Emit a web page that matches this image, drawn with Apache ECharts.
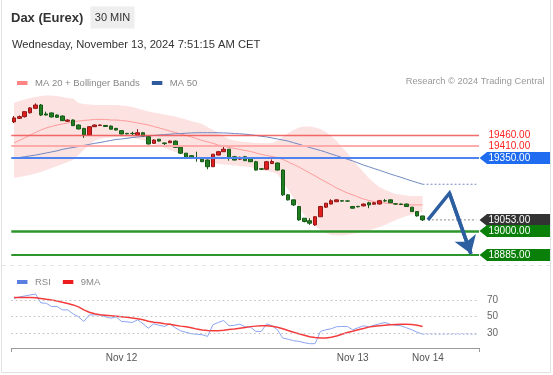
<!DOCTYPE html>
<html><head><meta charset="utf-8">
<script src="https://cdn.jsdelivr.net/npm/echarts@6/dist/echarts.min.js"></script>
<style>html,body{margin:0;padding:0;background:#fff}#c{width:553px;height:375px}</style>
</head><body><div id="c"></div>
<script>
// ---------- data ----------
const categoryCount = 87;
const tickIndex = [20, 63, 77];
const tickLabels = ['Nov 12', 'Nov 13', 'Nov 14'];
// [open, close, low, high]
const candles = [
[19523,19542,19518,19551],[19540,19548,19537,19554],[19548,19572,19544,19575],[19567,19590,19563,19594],
[19588,19604,19585,19612],[19604,19556,19551,19609],[19561,19556,19554,19572],[19566,19547,19544,19568],
[19556,19545,19542,19559],[19551,19529,19527,19554],[19526,19532,19523,19535],[19532,19505,19503,19535],
[19508,19489,19487,19511],[19492,19460,19446,19494],[19460,19500,19458,19503],[19500,19508,19499,19511],
[19506,19508,19503,19511],[19506,19501,19499,19508],[19503,19488,19487,19506],[19492,19484,19482,19494],
[19481,19465,19463,19484],[19468,19466,19463,19470],[19468,19467,19460,19476],[19460,19471,19458,19488],
[19471,19456,19453,19475],[19452,19417,19415,19456],[19420,19436,19417,19439],[19440,19431,19429,19441],
[19422,19419,19412,19424],[19423,19431,19422,19434],[19431,19401,19400,19434],[19401,19373,19369,19403],
[19373,19351,19350,19374],[19361,19349,19345,19364],[19350,19348,19332,19380],[19344,19332,19331,19345],
[19340,19308,19296,19343],[19308,19368,19307,19369],[19364,19380,19362,19384],[19380,19392,19379,19412],
[19392,19349,19337,19393],[19356,19340,19338,19360],[19344,19353,19340,19356],[19356,19337,19336,19360],
[19349,19332,19331,19350],[19332,19292,19290,19336],[19298,19296,19292,19302],[19296,19332,19292,19336],
[19323,19333,19321,19343],[19326,19292,19290,19328],[19292,19173,19168,19295],[19173,19149,19146,19175],
[19149,19125,19120,19151],[19117,19053,19049,19120],[19061,19045,19041,19062],[19049,19037,19029,19061],
[19029,19068,19024,19072],[19068,19117,19067,19120],[19114,19133,19110,19134],[19129,19145,19127,19152],
[19140,19149,19139,19151],[19145,19143,19140,19147],[19144,19143,19140,19146],[19117,19109,19108,19120],
[19118,19116,19113,19120],[19120,19129,19118,19131],[19135,19125,19109,19140],[19128,19135,19127,19139],
[19129,19145,19127,19149],[19145,19144,19140,19153],[19149,19135,19134,19151],[19130,19129,19126,19133],
[19129,19127,19124,19131],[19129,19117,19115,19131],[19114,19093,19091,19115],[19093,19072,19069,19094],
[19072,19053,19048,19072]
];
const ma20 = [19422,19434,19446,19460,19472,19484,19494,19501,19508,19513,
19518,19523,19527,19530,19532,19535,19535,19535,19532,19532,
19530,19527,19523,19518,19513,19508,19501,19494,19487,19479,
19472,19465,19458,19451,19443,19434,19427,19420,19412,19408,
19400,19396,19391,19386,19381,19374,19367,19362,19357,19352,
19343,19331,19319,19307,19292,19278,19264,19249,19235,19221,
19206,19194,19182,19173,19163,19153,19146,19141,19137,19134,
19132,19129,19127,19125,19125,19125,19125];
const bbUpper = [19614,19623,19630,19638,19642,19647,19650,19650,19647,19642,19638,19635,
19614,19609,19606,19604,19604,19604,19604,19604,
19602,19599,19594,19587,19580,19573,19568,19563,19559,19554,19549,19542,19535,19527,19520,19513,
19499,19484,19470,19455,19441,19434,19429,19427,19424,19422,19422,19420,19422,19432,
19451,19470,19484,19496,19501,19501,19496,19489,19475,19455,19432,19403,19374,19340,19312,19283,
19254,19230,19211,19197,19187,19177,19173,19170,19168,19168,19168];
const bbLower = [19254,19259,19264,19268,19276,19283,19292,19302,19312,19321,
19331,19340,19364,19388,19412,19432,19441,19446,19448,19451,
19451,19448,19446,19441,19436,19427,19417,19408,19398,19388,
19379,19369,19360,19350,19343,19336,19328,19324,19321,19319,
19316,19314,19312,19309,19307,19300,19292,19288,19283,19273,
19235,19197,19158,19110,19077,19048,19024,19005,18990,18981,
18978,18978,18981,18986,18990,18995,19002,19010,19019,19029,
19041,19053,19062,19072,19079,19086,19091];
const ma50 = [19349,19352,19356,19360,19364,19369,19374,19379,19384,19391,
19396,19400,19405,19410,19415,19420,19424,19429,19434,19439,
19441,19444,19448,19451,19453,19455,19458,19460,19462,19464,
19466,19467,19469,19470,19471,19471,19471,19471,19471,19470,
19469,19467,19466,19464,19461,19458,19454,19451,19446,19441,
19436,19431,19423,19416,19408,19400,19393,19386,19378,19369,
19361,19352,19344,19336,19326,19316,19308,19299,19291,19282,
19273,19265,19257,19248,19240,19232,19224];
const rsi = [72,73.6,74.8,76,77.2,66.4,66,62,62.2,58,
58,53.2,49.6,44,52,52,52,49.6,48,49.6,
44,43.6,42.8,46,41.2,36,41.2,39.4,38,41.2,
36.4,32.8,31,29.2,28.6,28,26,40,42.8,45.2,
38.8,39.4,40.8,37.6,37.2,32,32,41.2,38.8,34,
24,22.6,20.8,20,18.4,17.2,17.2,32,34,35.2,
37.6,38,38,34,36.4,38.8,37.6,39.4,41.2,42.8,
40.6,39.4,38.8,36.4,34,31,28.8];
const rsi9ma = [72.8,72.8,72.9,72.9,72.6,71.8,70.8,70,68.8,67.2,
65.8,64,61.6,58,55.2,53.4,52,51.4,50.8,50.2,
49.6,49,48.2,47.2,46,44.4,43.2,42.4,41.2,40.6,
39.4,38.4,37.6,36.4,34.8,33.8,33.2,32.8,32.8,33.4,
34.2,34.8,35.8,36.8,37.8,38.4,38.8,38.8,38.2,37,
35.2,33.2,31,29.2,27.4,25.6,24.6,24,24,25,
26.4,28.6,30.6,32.2,34,35.6,37.2,38.2,38.8,39.4,
40,40.4,40.7,40.8,40.4,39.4,38];
const rsiLevels = [70, 50, 30];
const resistance = [19460, 19410];
const pivot = 19350;
const supports = [19000, 18885];
const forecastIdx = [77, 81, 85];
const forecastVal = [19053, 19181, 18890];

// ---------- build ----------
const FONT = '"Liberation Sans", Arial, Helvetica, sans-serif';
const N = categoryCount;
const cats = Array.from({length: N}, (_, i) => 'c' + i);
const last = candles.length - 1;
const lastPrice = candles[last][1];
const ext = (v, from) => cats.map((_, i) => (i >= from ? v : null));
const bbWidth = bbUpper.map((u, i) => u - bbLower[i]);

const chart = echarts.init(document.getElementById('c'));
const option = {
  animation: false,
  textStyle: {fontFamily: FONT},
  grid: [
    {left: 11.3, top: 90, width: 467.7, height: 172},
    {left: 11.3, top: 290, width: 467.7, height: 58}
  ],
  legend: [
    {left: 12, top: 73, icon: 'rect', itemWidth: 10.5, itemHeight: 4, itemGap: 12, selectedMode: false,
     itemStyle: {borderWidth: 0},
     textStyle: {fontSize: 9.5, color: '#888', fontFamily: FONT, padding: [0, 0, 0, 2.5]},
     data: [{name: 'MA 20 + Bollinger Bands', itemStyle: {color: '#ff8585'}},
            {name: 'MA 50', itemStyle: {color: '#2f5b9c'}}]},
    {left: 12, top: 272, icon: 'rect', itemWidth: 10.5, itemHeight: 4, itemGap: 12, selectedMode: false,
     itemStyle: {borderWidth: 0},
     textStyle: {fontSize: 9.5, color: '#888', fontFamily: FONT, padding: [0, 0, 0, 2.5]},
     data: [{name: 'RSI', itemStyle: {color: '#5b7fe0'}},
            {name: '9MA', itemStyle: {color: '#ee1c1c'}}]}
  ],
  xAxis: [
    {type: 'category', gridIndex: 0, data: cats, boundaryGap: true, show: false},
    {type: 'category', gridIndex: 1, data: cats, boundaryGap: true,
     axisLine: {lineStyle: {color: '#9a9a9a', width: 1}},
     axisTick: {show: true, interval: (i) => i === 0, length: 4, lineStyle: {color: '#9a9a9a'}},
     axisLabel: {interval: (i) => tickIndex.includes(i),
                 formatter: (v, i) => { const k = tickIndex.indexOf(i); return k >= 0 ? tickLabels[k] : ''; },
                 color: '#555', fontSize: 10, margin: 5, fontFamily: FONT},
     splitLine: {show: false}}
  ],
  yAxis: [
    {type: 'value', gridIndex: 0, min: 18851, max: 19676, show: false, splitLine: {show: false}},
    {type: 'value', gridIndex: 1, min: 12, max: 82, show: false, splitLine: {show: false}}
  ],
  series: [
    {name: 'bbLower', type: 'line', xAxisIndex: 0, yAxisIndex: 0, data: bbLower, stack: 'bb', symbol: 'none',
     lineStyle: {width: 0, opacity: 0}, silent: true, z: 1},
    {name: 'bbWidth', type: 'line', xAxisIndex: 0, yAxisIndex: 0, data: bbWidth, stack: 'bb', symbol: 'none',
     lineStyle: {width: 0, opacity: 0}, areaStyle: {color: '#fde2e2', opacity: 1}, silent: true, z: 1},
    {name: 'MA 20 + Bollinger Bands', type: 'line', xAxisIndex: 0, yAxisIndex: 0, data: ma20, symbol: 'none',
     lineStyle: {color: '#ff9b9b', width: 1}, itemStyle: {color: '#ff8585'}, z: 2,
     markLine: {symbol: 'none', silent: true, label: {show: false}, data: [
       {yAxis: resistance[0], lineStyle: {color: '#f05050', width: 1.3, type: 'solid', opacity: 0.85}},
       {yAxis: resistance[1], lineStyle: {color: '#ffabab', width: 2, type: 'solid', opacity: 1}},
       {yAxis: pivot, lineStyle: {color: '#4f83f0', width: 2, type: 'solid', opacity: 1}},
       {yAxis: supports[0], lineStyle: {color: '#2c962c', width: 2.5, type: 'solid', opacity: 1}},
       {yAxis: supports[1], lineStyle: {color: '#2c962c', width: 2, type: 'solid', opacity: 1}}
     ]}},
    {name: 'MA 50', type: 'line', xAxisIndex: 0, yAxisIndex: 0, data: ma50, symbol: 'none',
     lineStyle: {color: '#7088c0', width: 1}, itemStyle: {color: '#2f5b9c'}, z: 2},
    {name: 'ma50ext', type: 'line', xAxisIndex: 0, yAxisIndex: 0, data: ext(ma50[last], last), symbol: 'none',
     lineStyle: {color: '#7088c0', width: 1, type: [2, 2]}, z: 2},
    {name: 'priceExt', type: 'line', xAxisIndex: 0, yAxisIndex: 0, data: ext(lastPrice, last + 1), symbol: 'none',
     lineStyle: {color: '#888', width: 1, type: [2, 2]}, z: 2},
    {name: 'price', type: 'candlestick', xAxisIndex: 0, yAxisIndex: 0, data: candles, barWidth: 4,
     itemStyle: {color: '#e21d1d', color0: '#217d21', borderColor: '#8f1a1a', borderColor0: '#165a16', borderWidth: 1}, z: 4},
    {name: 'forecast', type: 'lines', coordinateSystem: 'cartesian2d', xAxisIndex: 0, yAxisIndex: 0, polyline: true,
     data: [{coords: forecastIdx.map((x, i) => [x, forecastVal[i]])}],
     lineStyle: {color: '#2d5fa0', width: 3.5, opacity: 1, curveness: 0}, z: 5},
    {name: 'forecastHead', type: 'lines', coordinateSystem: 'cartesian2d', xAxisIndex: 0, yAxisIndex: 0,
     data: [{coords: [[forecastIdx[1], forecastVal[1]], [forecastIdx[2], forecastVal[2]]]}],
     symbol: ['none', 'arrow'], symbolSize: 17,
     lineStyle: {color: '#2d5fa0', width: 3.5, opacity: 1, curveness: 0}, z: 5},
    {name: 'RSI', type: 'line', xAxisIndex: 1, yAxisIndex: 1, data: rsi, symbol: 'none',
     lineStyle: {color: '#8ba5f0', width: 1}, itemStyle: {color: '#5b7fe0'}, z: 3,
     markLine: {symbol: 'none', silent: true,
       lineStyle: {color: '#bdbdbd', type: [1.5, 3], width: 1},
       label: {position: 'end', formatter: '{c}', color: '#666', fontSize: 10, distance: 8, fontFamily: FONT},
       data: rsiLevels.map(v => ({yAxis: v}))}},
    {name: '9MA', type: 'line', xAxisIndex: 1, yAxisIndex: 1, data: rsi9ma, symbol: 'none',
     lineStyle: {color: '#f43c3c', width: 1.5}, itemStyle: {color: '#ee1c1c'}, z: 3},
    {name: 'rsiExt', type: 'line', xAxisIndex: 1, yAxisIndex: 1, data: ext(rsi[last], last), symbol: 'none',
     lineStyle: {color: '#8ba5f0', width: 1, type: [2, 2]}, z: 3}
  ]
};
chart.setOption(option);

// ---------- decorations & price tags ----------
const yPix = v => chart.convertToPixel({yAxisIndex: 0}, v);
const tags = [
  {v: resistance[0], box: null, color: '#ff2222'},
  {v: resistance[1], box: null, color: '#ff2222'},
  {v: pivot, box: '#1f6cf0', color: '#fff'},
  {v: lastPrice, box: '#333333', color: '#fff'},
  {v: supports[0], box: '#0a800a', color: '#fff'},
  {v: supports[1], box: '#0a800a', color: '#fff'}
];
const g = [
  {type: 'rect', shape: {x: 1.5, y: -2, width: 549, height: 374.5}, style: {fill: 'none', stroke: '#e2e2e2', lineWidth: 1}, silent: true},
  {type: 'line', shape: {x1: 2, y1: 265.5, x2: 550, y2: 265.5}, style: {stroke: '#e6e6e6', lineDash: [4, 4], lineWidth: 1}, silent: true},
  {type: 'text', x: 11, y: 18, style: {text: 'Dax (Eurex)', fontSize: 13, fontWeight: 'bold', fill: '#333', fontFamily: FONT, verticalAlign: 'middle'}},
  {type: 'rect', shape: {x: 90.5, y: 6.5, width: 44, height: 22}, style: {fill: '#eeeeee'}},
  {type: 'text', x: 112.5, y: 17.5, style: {text: '30 MIN', fontSize: 11, fill: '#333', fontFamily: FONT, align: 'center', verticalAlign: 'middle'}},
  {type: 'text', x: 12, y: 45, style: {text: 'Wednesday, November 13, 2024 7:51:15 AM CET', fontSize: 11.2, fill: '#333', fontFamily: FONT, verticalAlign: 'middle'}},
  {type: 'text', x: 544.5, y: 81, style: {text: 'Research \u00a9 2024 Trading Central', fontSize: 9.3, fill: '#999', fontFamily: FONT, align: 'right', verticalAlign: 'middle'}}
];
tags.forEach(t => {
  const y = yPix(t.v);
  if (t.box) {
    g.push({type: 'polygon', shape: {points: [[479.5, y], [487, y - 6], [550, y - 6], [550, y + 6], [487, y + 6]]},
            style: {fill: t.box}, silent: true});
  }
  g.push({type: 'text', x: 488.5, y: y + 0.5, style: {text: t.v.toFixed(2), fontSize: 10, fill: t.color, fontFamily: FONT, verticalAlign: 'middle'}, silent: true});
});
chart.setOption({graphic: g});
</script>
</body></html>
